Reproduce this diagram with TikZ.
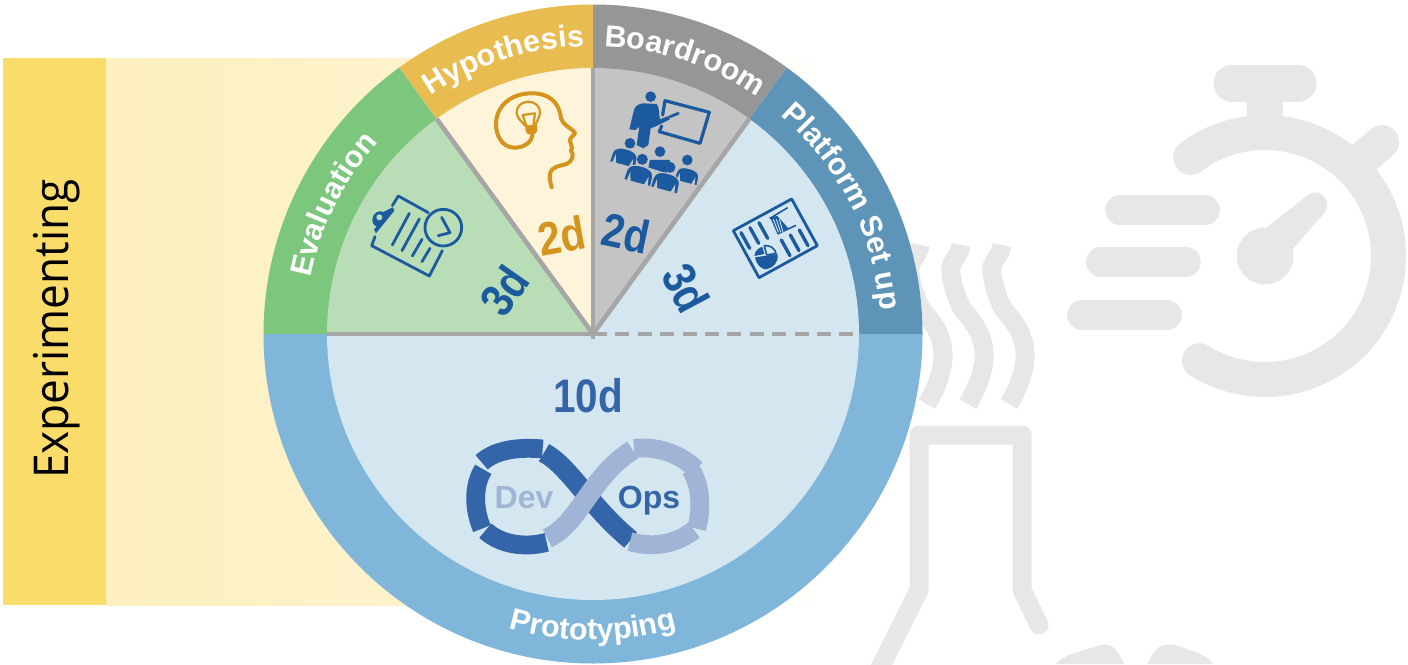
\documentclass[tikz,border=0pt]{standalone}
\usepackage{fontspec}
\setmainfont{Liberation Sans}
\newfontfamily\expfont{Open Sans}
\usetikzlibrary{decorations.text}
\definecolor{evalring}{HTML}{7DC67E}
\definecolor{evalfill}{HTML}{B9DDB7}
\definecolor{hypring}{HTML}{E8BC50}
\definecolor{hypfill}{HTML}{FEF4D9}
\definecolor{boardring}{HTML}{969696}
\definecolor{boardfill}{HTML}{C4C4C4}
\definecolor{platring}{HTML}{5E94B8}
\definecolor{platfill}{HTML}{D4E6EF}
\definecolor{protoring}{HTML}{7FB6DA}
\definecolor{divider}{HTML}{A6A6A6}
\definecolor{iconblue}{HTML}{1B5A9E}
\definecolor{iconorange}{HTML}{D4941E}
\definecolor{devdark}{HTML}{3465A8}
\definecolor{devlight}{HTML}{A0B5D6}
\definecolor{ghost}{HTML}{E7E7E7}
\definecolor{expyellow}{HTML}{FADC6A}
\definecolor{bandyellow}{HTML}{FDEFBF}
\definecolor{bandpale}{HTML}{FEF3CD}
\newcommand{\audbody}[3]{%
  \begin{scope}[shift={(#1,#2)},rotate=-15,scale=#3]
  \filldraw[fill=iconblue,draw=boardfill,line width=.5pt] (-42,25) -- (-40,-5) .. controls (-38,-20) and (-25,-25) .. (-10,-27) -- (10,-27) .. controls (25,-25) and (38,-20) .. (40,-5) -- (42,25) -- (31,25) -- (28,5) -- (22,25) -- (-22,25) -- (-28,5) -- (-31,25) -- cycle;
  \end{scope}}
\tikzset{
  ringtext/.style={decorate,decoration={text along path,text align=center,
    text={|\fontsize{15.2}{15}\bfseries\color{white}|#1}}},
  dayfont/.style={font=\fontsize{23.5}{24}\bfseries,text=iconblue,inner sep=0pt,xscale=.86},
  ghostline/.style={draw=ghost,line width=9.5pt,fill=none},
  ghostwave/.style={draw=ghost,line width=9.5pt,fill=none,line cap=butt},
  devseg/.style={line width=9.4pt,line cap=butt,line join=round},
  blueline/.style={draw=iconblue,line width=1.4pt,line cap=round,line join=round,fill=none},
  orline/.style={draw=iconorange,line width=2pt,line cap=round,line join=round,fill=none},
  divline/.style={draw=divider,line width=2.3pt},
}
\begin{document}
\begin{tikzpicture}[x=.5pt,y=-.5pt]
\useasboundingbox (0,0) rectangle (1408,664);
\clip (0,0) rectangle (1408,664);
% grey background icons
\draw[draw=ghost,line width=18.5pt,line cap=round] (1232,83) -- (1298,83);
\fill[ghost] (1247,95) rectangle (1283,125);
\draw[draw=ghost,line width=17.5pt,line cap=round] (1265,256) ++(127:123.5 and -123.5) arc[start angle=-127,end angle=122,radius=123.5];
\draw[draw=ghost,line width=17pt,line cap=round] (1352,168) -- (1382,142);
\fill[ghost] (1265,256) circle (28.4);
\fill[ghost] (1266,228) -- (1309,194) .. controls (1320,188) and (1332,200) .. (1325,212) -- (1293,249) -- cycle;
\draw[ghostline,line cap=round,line width=14.8pt] (1120,210) -- (1205,210);
\draw[ghostline,line cap=round,line width=14.8pt] (1101,262) -- (1186,262);
\draw[ghostline,line cap=round,line width=14.8pt] (1082,315) -- (1167,315);
\foreach \dx in {0,-41,-82}{
  \draw[ghostwave,shift={(\dx,0)}] (1002,245) .. controls (1001,257) and (990,260) .. (992,274)
     .. controls (994,287) and (998,300) .. (1004,310)
     .. controls (1016,323) and (1026,338) .. (1025,358)
     .. controls (1024,375) and (1017,390) .. (1009,404);
}
\draw[ghostline,line join=round,line cap=round] (878,672) -- (919,590) -- (919,435) -- (1022,435) -- (1022,590) -- (1039,625);
\fill[ghost] (1056,664) .. controls (1062,655) and (1085,650) .. (1100,645) .. controls (1112,642) and (1118,650) .. (1124,664) -- cycle;
\fill[ghost] (1148,664) .. controls (1153,650) and (1160,642) .. (1175,645) .. controls (1190,650) and (1208,655) .. (1213,664) -- cycle;
% experimenting band
\shade[left color=bandyellow,right color=bandpale] (106,58) rectangle (421,605);
\shade[left color=bandpale,right color=white] (420,58) rectangle (830,605);
\fill[expyellow] (3,58) rectangle (106,605);
\node[rotate=90,xscale=.92,inner sep=0pt,anchor=base,font=\expfont\fontsize{24}{24}\selectfont] (exp) at (68,329) {Experimenting};
% the wheel
\begin{scope}[shift={(593,334)},yscale=-1]
  \fill[evalring] (0,0) -- (180:329.5) arc[start angle=180,end angle=126,radius=329.5] -- cycle;
  \fill[hypring] (0,0) -- (126:329.5) arc[start angle=126,end angle=90,radius=329.5] -- cycle;
  \fill[boardring] (0,0) -- (90:329.5) arc[start angle=90,end angle=54,radius=329.5] -- cycle;
  \fill[platring] (0,0) -- (54:329.5) arc[start angle=54,end angle=0,radius=329.5] -- cycle;
  \fill[protoring] (0,0) -- (0:329.5) arc[start angle=0,end angle=-180,radius=329.5] -- cycle;
  \fill[evalfill] (0,0) -- (180:266) arc[start angle=180,end angle=126,radius=266] -- cycle;
  \fill[hypfill] (0,0) -- (126:266) arc[start angle=126,end angle=90,radius=266] -- cycle;
  \fill[boardfill] (0,0) -- (90:266) arc[start angle=90,end angle=54,radius=266] -- cycle;
  \fill[platfill] (0,0) -- (54:266) arc[start angle=54,end angle=0,radius=266] -- cycle;
  \fill[platfill] (0,0) -- (0:266) arc[start angle=0,end angle=-180,radius=266] -- cycle;
  \draw[divline] (180:266) -- (0,0);
  \draw[divline] (126:266) -- (0,0);
  \draw[divline] (90:266) -- (-90:5);
  \draw[divline] (54:266) -- (0,0);
  \draw[divline,dash pattern=on 7pt off 4.2pt] (0,0) -- (0:266);
  % ring labels
  \path[ringtext={Evaluation}] (171.5:288) arc[start angle=171.5,end angle=135.5,radius=288];
  \path[ringtext={Hypothesis}] (126:288) arc[start angle=126,end angle=90,radius=288];
  \path[ringtext={Boardroom}] (89.5:288) arc[start angle=89.5,end angle=53.5,radius=288];
  \path[ringtext={Platform Set up}] (52:288) arc[start angle=52,end angle=2,radius=288];
  \path[ringtext={Prototyping}] (-110:306) arc[start angle=-110,end angle=-70,radius=306];
\end{scope}
% day labels
\node[rotate=55,dayfont] (d3l) at (504,291) {3d};
\node[rotate=10,dayfont,text=iconorange] (d2h) at (562,236) {2d};
\node[rotate=-12,dayfont] (d2b) at (626,233) {2d};
\node[rotate=-62,dayfont] (d3r) at (686,288) {3d};
\node[dayfont,text=devdark] (d10) at (588,396) {10d};
% head icon
\begin{scope}[shift={(480,80)},x=.5pt/3,y=-.5pt/3]
  \draw[orline] (157,165) .. controls (155,190) and (125,205) .. (100,203)
    .. controls (65,200) and (47,165) .. (48,130)
    .. controls (50,75) and (95,42) .. (150,40)
    .. controls (205,38) and (238,65) .. (243,115)
    .. controls (248,135) and (275,145) .. (285,158)
    .. controls (285,168) and (268,170) .. (270,182)
    .. controls (272,195) and (280,205) .. (273,212)
    .. controls (285,225) and (275,245) .. (260,252)
    .. controls (240,258) and (215,258) .. (210,282)
    .. controls (207,295) and (212,310) .. (215,322);
  \draw[orline,line width=1.1pt] (137,138) .. controls (125,125) and (112,115) .. (110,100)
    .. controls (108,80) and (125,65) .. (145,65)
    .. controls (165,65) and (182,80) .. (180,100)
    .. controls (178,118) and (167,125) .. (165,142);
  \draw[orline,line width=1.1pt] (128,105) -- (165,100) -- (160,138) -- (140,140) -- cycle;
  \fill[iconorange] (135,136) -- (170,134) -- (172,152) .. controls (170,167) and (140,169) .. (137,154) -- cycle;
\end{scope}
% presenter icon
\begin{scope}[shift={(480,80)},x=.5pt/3,y=-.5pt/3]
  \fill[iconblue] (512,50) circle (16);
  \fill[iconblue] (490,70) -- (530,72) .. controls (540,85) and (535,100) .. (540,118) -- (565,108) -- (570,118) -- (525,140) -- (512,145) -- (505,195) -- (490,205) -- (470,195) -- (478,140) -- (466,150) -- (448,148) -- (462,90) .. controls (465,78) and (478,70) .. (490,70) -- cycle;
  \draw[draw=iconblue,line width=1.6pt,line cap=round,line join=round] (548,105) -- (555,62) -- (688,97) -- (660,190) -- (538,155) -- (545,138);
  \draw[draw=iconblue,line width=1.4pt,line cap=round] (570,110) -- (595,100);
  \fill[iconblue] (450,190) circle (16);
  \audbody{433}{232}{.95}
  \fill[iconblue] (622,240) circle (16);
  \audbody{622}{288}{.85}
  \fill[iconblue] (540,215) circle (16);
  \fill[iconblue] (510,240) -- (570,240) -- (560,280) -- (505,262) -- cycle;
  \fill[iconblue] (487,238) circle (16.5);
  \audbody{478}{285}{1}
  \fill[iconblue] (570,262) circle (16.5);
  \audbody{558}{307}{1}
\end{scope}
% clipboard icon
\begin{scope}[shift={(350,190)},x=.5pt/3,y=-.5pt/3]
  \draw[blueline] (127,47) -- (145,18) -- (235,68);
  \draw[blueline] (75,140) -- (65,167) -- (238,258) -- (277,182);
  \fill[iconblue] (67,90) .. controls (66,70) and (88,58) .. (100,66) -- (128,52) -- (133,62) -- (78,130) -- (72,118) -- (80,110) .. controls (72,108) and (68,100) .. (67,90) -- cycle;
  \fill[evalfill] (88,82) circle (9);
  \draw[blueline] (178,70) -- (127,165);
  \draw[blueline] (208,87) -- (156,182);
  \draw[blueline] (216,148) -- (187,198);
  \draw[blueline] (240,175) -- (216,215);
  \draw[blueline] (280,113) circle (55);
  \draw[blueline] (275,82) -- (300,128) -- (265,137);
\end{scope}
% report icon
\begin{scope}[shift={(720,180)},x=.5pt/3,y=-.5pt/3]
  \draw[blueline] (40,152) -- (215,57) -- (292,197) -- (117,293) -- cycle;
  \draw[blueline,line width=1.7pt] (63,158) -- (89,205);
  \draw[blueline,line width=1.7pt] (90,143) -- (116,190);
  \draw[blueline,line width=1.7pt] (117,128) -- (143,175);
  \draw[blueline,line width=1.7pt] (184,180) -- (210,227);
  \draw[blueline,line width=1.7pt] (211,165) -- (237,212);
  \draw[blueline,line width=1.7pt] (238,150) -- (264,197);
  \fill[iconblue] (105,232) -- (172,222) .. controls (178,245) and (160,265) .. (135,268) .. controls (120,265) and (108,250) .. (105,232) -- cycle;
  \fill[iconblue] (103,228) .. controls (105,212) and (115,204) .. (127,200) -- (133,222) -- cycle;
  \draw[draw=iconblue,line width=.8pt,line join=round] (133,197) .. controls (150,195) and (165,205) .. (168,220) -- (140,225) -- cycle;
  \draw[draw=iconblue,line width=.8pt] (150,115) -- (203,83);
  \draw[draw=iconblue,line width=.8pt] (172,162) -- (228,136);
  \fill[iconblue] (148,112) -- (172,108) -- (190,128) -- (205,145) -- (172,160) -- (165,150) -- cycle;
  \foreach \u in {0,1,2,3}{\draw[draw=platfill,line width=.45pt] (151+9*\u,118) -- (168+7*\u,157);}
\end{scope}
% DevOps infinity
\begin{scope}[shift={(440,420)},x=.5pt/3,y=-.5pt/3]
  \draw[devseg,devdark] (125,127) .. controls (165,90) and (235,80) .. (308,87);
  \draw[devseg,devdark] (130,148) .. controls (100,195) and (100,265) .. (126,326);
  \draw[devseg,devdark] (136,332) .. controls (180,372) and (250,385) .. (320,367);
  \draw[devseg,devdark,line width=10pt] (312,98) .. controls (390,140) and (450,260) .. (572,360);
  \draw[devseg,devlight,line width=10pt] (322,355) .. controls (420,310) and (450,170) .. (578,90);
  \draw[devseg,devlight] (582,85) .. controls (650,78) and (720,100) .. (768,148);
  \draw[devseg,devlight] (752,148) .. controls (785,200) and (785,270) .. (770,326);
  \draw[devseg,devlight] (762,330) .. controls (710,372) and (640,385) .. (570,365);
\end{scope}
\node[inner sep=0pt,anchor=base,font=\fontsize{16}{16}\bfseries,text=devlight] (dev) at (524,508) {Dev};
\node[inner sep=0pt,anchor=base,font=\fontsize{16}{16}\bfseries,text=devdark] (ops) at (649,508) {Ops};
\end{tikzpicture}
\end{document}
